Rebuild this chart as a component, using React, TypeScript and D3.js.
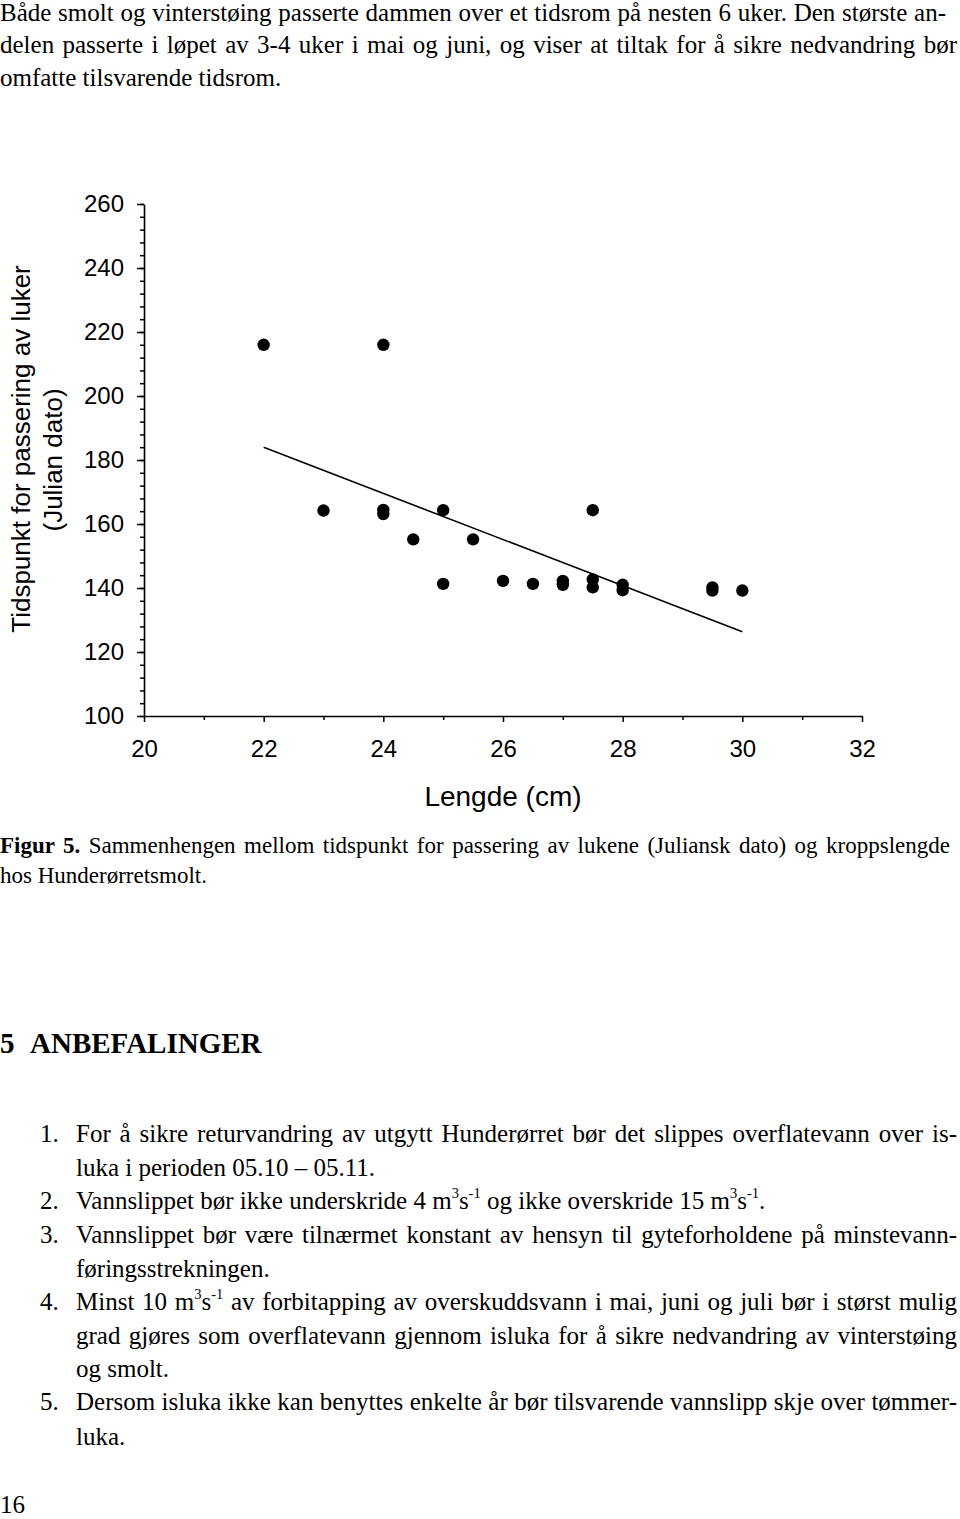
import React, { useEffect, useRef } from "react";
import * as d3 from "d3";

// ---------- chart data ----------
const lengthCm = [22, 24, 23, 24, 24, 24.5, 25, 25, 25.5, 26, 26.5, 27, 27, 27.5, 27.5, 27.5, 28, 28, 29.5, 29.5, 30];
const julianDay = [216, 216, 164.2, 164.4, 163.1, 155.2, 164.3, 141.3, 155.2, 142.2, 141.3, 142.2, 141, 164.3, 142.7, 140.2, 141, 139.3, 140.2, 139.2, 139.2];
const fitIntercept = 342.6;
const fitSlope = -7.21;
const fitRange = [22, 30];
const xMajorTicks = [20, 22, 24, 26, 28, 30, 32];
const xMinorTicks = [21, 23, 25, 27, 29, 31];
const yMajorTicks = [100, 120, 140, 160, 180, 200, 220, 240, 260];
const yMinorTicks = d3.range(100, 261, 4);
const xTitle = "Lengde (cm)";
const yTitle1 = "Tidspunkt for passering av luker";
const yTitle2 = "(Julian dato)";

// ---------- page text ----------
type Seg = { t: string; sup?: boolean; bold?: boolean };
type Line = { x: number; y: number; size: number; segs: Seg[]; justify?: number; bold?: boolean };

const paragraphLines: string[] = [
  "Både smolt og vinterstøing passerte dammen over et tidsrom på nesten 6 uker. Den største an-",
  "delen passerte i løpet av 3-4 uker i mai og juni, og viser at tiltak for å sikre nedvandring bør",
  "omfatte tilsvarende tidsrom.",
];
const captionLines: string[] = [
  "Sammenhengen mellom tidspunkt for passering av lukene (Juliansk dato) og kroppslengde",
  "hos Hunderørretsmolt.",
];
const headingNumber = "5";
const headingText = "ANBEFALINGER";
const listNumbers = ["1.", "2.", "3.", "4.", "5."];
const pageNumber = "16";

export default function App() {
  const ref = useRef<SVGSVGElement>(null);

  useEffect(() => {
    const svg = d3.select(ref.current);
    svg.selectAll("*").remove();

    // ---------- chart ----------
    const x = d3.scaleLinear().domain([20, 32]).range([144, 862]);
    const y = d3.scaleLinear().domain([100, 260]).range([716, 204]);
    const sans = "'Liberation Sans', Arial, sans-serif";
    const g = svg.append("g");

    // y axis minor
    g.append("g")
      .attr("transform", `translate(${x(20)},0)`)
      .call(d3.axisLeft(y).tickValues(yMinorTicks).tickSize(4).tickSizeOuter(0).tickFormat(() => ""))
      .call((s) => s.select(".domain").remove())
      .call((s) => s.selectAll("line").attr("stroke", "#000").attr("stroke-width", 1.5));
    // y axis major
    g.append("g")
      .attr("transform", `translate(${x(20)},0)`)
      .call(d3.axisLeft(y).tickValues(yMajorTicks).tickSize(7).tickSizeOuter(0).tickPadding(13).tickFormat(d3.format("d")))
      .call((s) => s.select(".domain").attr("stroke", "#000").attr("stroke-width", 1.6))
      .call((s) => s.selectAll("line").attr("stroke", "#000").attr("stroke-width", 1.5))
      .call((s) => s.selectAll("text").attr("font-family", sans).attr("font-size", 24).attr("fill", "#000"));

    // x axis minor
    g.append("g")
      .attr("transform", `translate(0,${y(100)})`)
      .call(d3.axisBottom(x).tickValues(xMinorTicks).tickSize(4).tickSizeOuter(0).tickFormat(() => ""))
      .call((s) => s.select(".domain").remove())
      .call((s) => s.selectAll("line").attr("stroke", "#000").attr("stroke-width", 1.5));
    // x axis major
    g.append("g")
      .attr("transform", `translate(0,${y(100)})`)
      .call(d3.axisBottom(x).tickValues(xMajorTicks).tickSize(6).tickSizeOuter(0).tickPadding(18).tickFormat(d3.format("d")))
      .call((s) => s.select(".domain").attr("stroke", "#000").attr("stroke-width", 1.6))
      .call((s) => s.selectAll("line").attr("stroke", "#000").attr("stroke-width", 1.5))
      .call((s) => s.selectAll("text").attr("font-family", sans).attr("font-size", 24).attr("fill", "#000"));

    // regression line
    const fit = fitRange.map((v) => [v, fitIntercept + fitSlope * v] as [number, number]);
    g.append("path")
      .attr("d", d3.line<[number, number]>().x((d) => x(d[0])).y((d) => y(d[1]))(fit) || "")
      .attr("stroke", "#000")
      .attr("stroke-width", 1.6)
      .attr("fill", "none");

    // points
    g.selectAll("circle.pt")
      .data(lengthCm.map((l, i) => [l, julianDay[i]]))
      .join("circle")
      .attr("class", "pt")
      .attr("cx", (d) => x(d[0]))
      .attr("cy", (d) => y(d[1]))
      .attr("r", 6.2)
      .attr("fill", "#000");

    // titles
    g.append("text")
      .attr("x", (x(20) + x(32)) / 2)
      .attr("y", 806)
      .attr("text-anchor", "middle")
      .attr("font-family", sans)
      .attr("font-size", 28)
      .text(xTitle);
    g.append("text")
      .attr("transform", `translate(30,449) rotate(-90)`)
      .attr("text-anchor", "middle")
      .attr("font-family", sans)
      .attr("font-size", 26)
      .text(yTitle1);
    g.append("text")
      .attr("transform", `translate(62,460) rotate(-90)`)
      .attr("text-anchor", "middle")
      .attr("font-family", sans)
      .attr("font-size", 26)
      .text(yTitle2);

    // ---------- page text ----------
    const serif = "'Liberation Serif', 'Times New Roman', serif";
    const sup = (t: string): Seg => ({ t, sup: true });
    const n = (t: string): Seg => ({ t });

    const lines: Line[] = [
      { x: 0, y: 21, size: 25, segs: [n(paragraphLines[0])], justify: 946 },
      { x: 0, y: 53, size: 25, segs: [n(paragraphLines[1])], justify: 957 },
      { x: 0, y: 86, size: 25, segs: [n(paragraphLines[2])] },
      { x: 0, y: 853, size: 23, segs: [{ t: "Figur 5.", bold: true }, n(" " + captionLines[0])], justify: 950 },
      { x: 0, y: 883, size: 23, segs: [n(captionLines[1])] },
      { x: 0, y: 1053, size: 29, segs: [n(headingNumber)], bold: true },
      { x: 30, y: 1053, size: 29, segs: [n(headingText)], bold: true },
      { x: 76, y: 1142, size: 25, segs: [n("For å sikre returvandring av utgytt Hunderørret bør det slippes overflatevann over is-")], justify: 957 },
      { x: 76, y: 1176, size: 25, segs: [n("luka i perioden 05.10 – 05.11.")] },
      { x: 76, y: 1209, size: 25, segs: [n("Vannslippet bør ikke underskride 4 m"), sup("3"), n("s"), sup("-1"), n(" og ikke overskride 15 m"), sup("3"), n("s"), sup("-1"), n(".")] },
      { x: 76, y: 1243, size: 25, segs: [n("Vannslippet bør være tilnærmet konstant av hensyn til gyteforholdene på minstevann-")], justify: 957 },
      { x: 76, y: 1277, size: 25, segs: [n("føringsstrekningen.")] },
      { x: 76, y: 1310, size: 25, segs: [n("Minst 10 m"), sup("3"), n("s"), sup("-1"), n(" av forbitapping av overskuddsvann i mai, juni og juli bør i størst mulig")], justify: 957 },
      { x: 76, y: 1344, size: 25, segs: [n("grad gjøres som overflatevann gjennom isluka for å sikre nedvandring av vinterstøing")], justify: 957 },
      { x: 76, y: 1377, size: 25, segs: [n("og smolt.")] },
      { x: 76, y: 1410, size: 25, segs: [n("Dersom isluka ikke kan benyttes enkelte år bør tilsvarende vannslipp skje over tømmer-")], justify: 957 },
      { x: 76, y: 1445, size: 25, segs: [n("luka.")] },
      { x: 0, y: 1513, size: 25, segs: [n(pageNumber)] },
    ];
    const numberY = [1142, 1209, 1243, 1310, 1410];
    listNumbers.forEach((num, i) => lines.push({ x: 40, y: numberY[i], size: 25, segs: [n(num)] }));

    const tg = svg.append("g");
    lines.forEach((ln) => {
      const t = tg.append("text")
        .attr("x", ln.x)
        .attr("y", ln.y)
        .attr("font-family", serif)
        .attr("font-size", ln.size)
        .attr("font-weight", ln.bold ? "bold" : "normal")
        .attr("fill", "#000");
      let raised = false;
      ln.segs.forEach((s) => {
        const ts = t.append("tspan").text(s.t);
        if (s.bold) ts.attr("font-weight", "bold");
        if (s.sup) {
          ts.attr("font-size", ln.size * 0.58);
          if (!raised) ts.attr("dy", -ln.size * 0.45);
          raised = true;
        } else if (raised) {
          ts.attr("dy", ln.size * 0.45);
          raised = false;
        }
      });
      if (ln.justify) {
        const node = t.node() as SVGTextElement;
        const len = node.getComputedTextLength();
        const text = ln.segs.map((s) => s.t).join("");
        const spaces = (text.match(/ /g) || []).length;
        if (spaces > 0) {
          const ws = (ln.justify - ln.x - len) / spaces;
          t.attr("word-spacing", ws);
        }
      }
    });
  }, []);

  return (
    <svg
      ref={ref}
      width={960}
      height={1519}
      style={{ position: "absolute", left: 0, top: 0, background: "#fff" }}
    />
  );
}
